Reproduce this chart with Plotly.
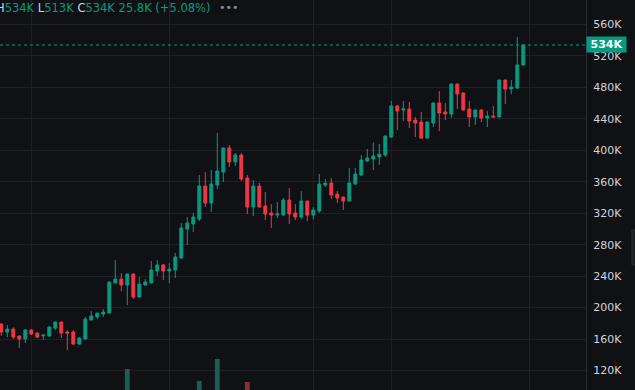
import plotly.graph_objects as go

# ---- data (prices in thousands) ----
opens = [179.0, 168.9, 172.7, 163.8, 160.0, 171.4, 167.6, 164.0, 163.8, 173.9,
         181.6, 168.9, 168.9, 153.6, 160.0, 184.2, 188.0, 191.8, 193.0, 231.3,
         236.3, 228.7, 242.7, 213.4, 228.7, 231.3, 246.5, 254.2, 246.5, 247.8,
         263.0, 299.9, 306.3, 312.6, 354.6, 333.0, 355.9, 372.4, 403.0, 385.2,
         394.0, 364.8, 327.9, 354.6, 329.2, 320.3, 317.7, 317.7, 336.8, 320.3,
         315.2, 335.5, 317.7, 322.8, 355.9, 358.4, 344.4, 340.6, 335.5, 357.2,
         368.6, 386.4, 389.0, 391.5, 394.0, 416.9, 456.4, 451.3, 452.6, 438.6,
         436.0, 415.6, 434.7, 460.2, 448.8, 446.2, 484.3, 472.9, 452.6, 442.4,
         451.3, 441.1, 443.7, 442.4, 489.4, 478.0, 479.3, 508.5]
highs = [180.3, 177.8, 175.2, 164.5, 172.7, 172.7, 168.9, 165.6, 176.5, 182.0,
         182.0, 171.4, 171.4, 162.5, 188.0, 195.6, 193.5, 198.1, 233.0, 260.5,
         243.9, 243.5, 243.5, 238.9, 236.3, 259.2, 260.5, 255.4, 256.7, 269.4,
         307.6, 315.2, 320.3, 368.6, 372.4, 375.0, 422.0, 403.5, 406.8, 396.6,
         396.6, 368.6, 362.2, 358.4, 347.0, 331.7, 334.3, 339.4, 352.1, 331.7,
         348.3, 336.0, 328.0, 369.9, 363.5, 364.8, 348.3, 341.0, 377.5, 377.5,
         394.0, 401.7, 410.0, 408.0, 419.0, 462.7, 457.7, 462.7, 461.4, 442.4,
         448.8, 436.5, 461.0, 475.4, 460.2, 485.0, 485.0, 473.5, 462.7, 452.0,
         452.6, 450.1, 456.4, 490.0, 490.0, 489.4, 544.1, 534.0]
lows = [163.8, 162.5, 160.0, 148.5, 154.9, 165.1, 161.3, 158.7, 163.0, 171.4,
        161.3, 146.0, 153.0, 153.0, 159.5, 184.0, 185.4, 188.0, 192.5, 231.0,
        221.0, 203.2, 211.0, 213.0, 228.0, 231.0, 240.1, 235.0, 231.3, 237.6,
        262.5, 279.6, 296.1, 310.0, 327.9, 321.6, 350.8, 359.7, 378.8, 380.0,
        361.0, 319.0, 316.5, 327.0, 311.4, 301.2, 313.9, 317.0, 306.3, 311.4,
        312.6, 310.0, 312.6, 320.3, 353.3, 338.0, 333.0, 324.1, 335.0, 356.0,
        367.3, 385.2, 375.0, 381.4, 391.5, 415.6, 425.8, 437.3, 428.4, 416.9,
        415.0, 415.0, 429.7, 424.6, 438.6, 441.1, 452.6, 451.0, 429.7, 432.2,
        436.0, 429.7, 441.1, 442.0, 458.9, 471.6, 478.0, 508.0]
closes = [168.9, 172.7, 162.5, 160.0, 171.4, 166.4, 162.5, 165.1, 175.2, 181.6,
          167.6, 167.6, 153.6, 161.3, 185.4, 189.3, 193.0, 194.3, 232.5, 236.3,
          228.7, 242.7, 213.4, 229.9, 232.5, 247.8, 254.2, 246.5, 249.0, 264.3,
          301.2, 307.6, 315.2, 354.6, 333.0, 357.2, 373.7, 403.0, 385.2, 394.0,
          363.5, 327.9, 354.6, 327.9, 319.0, 317.7, 319.0, 336.8, 319.0, 315.2,
          335.5, 317.7, 324.1, 357.2, 358.4, 343.2, 339.4, 335.5, 358.4, 369.9,
          387.7, 390.2, 392.8, 395.3, 418.2, 456.4, 450.1, 452.6, 437.3, 434.7,
          415.6, 436.0, 460.2, 447.5, 446.2, 484.3, 471.6, 451.3, 442.4, 451.3,
          441.1, 443.7, 442.4, 489.4, 478.0, 480.5, 508.5, 534.0]
volumes = [1.4, 1.2, 1.6, 1.9, 1.5, 1.1, 1.0, 1.2, 1.4, 1.3,
           2.0, 2.3, 2.1, 1.3, 2.6, 1.7, 1.2, 1.4, 3.4, 3.6,
           2.4, 6.1, 3.1, 2.2, 1.3, 2.5, 1.9, 1.8, 1.6, 2.4,
           3.7, 2.9, 2.2, 4.9, 3.5, 3.3, 7.1, 3.6, 2.8, 1.9,
           3.2, 4.8, 3.4, 2.9, 2.6, 2.2, 1.5, 1.8, 2.7, 1.6,
           2.3, 2.0, 1.4, 3.0, 1.3, 1.9, 1.2, 1.5, 2.8, 2.1,
           2.4, 1.5, 2.0, 1.7, 2.3, 3.6, 2.5, 1.8, 2.2, 1.6,
           2.1, 1.9, 2.4, 2.9, 1.5, 3.1, 2.3, 2.0, 2.2, 1.6,
           1.5, 1.7, 1.4, 3.2, 2.4, 1.6, 3.8, 2.5]
price_ticks = [120, 160, 200, 240, 280, 320, 360, 400, 440, 480, 520, 560]
price_tick_labels = ["120K", "160K", "200K", "240K", "280K", "320K",
                     "360K", "400K", "440K", "480K", "520K", "560K"]
time_grid = [5, 28, 52, 65, 88]
last_price = 534.0
last_label = "534K"

# ---- style ----
BG = "#101114"
GRID = "#1e2026"
UP = "#089981"
DOWN = "#f23645"
UP_VOL = "#1b5e53"
DOWN_VOL = "#8a2f38"
TXT = "#d1d4dc"
FONT = "DejaVu Sans"

idx = list(range(len(opens)))
vol_colors = [UP_VOL if c >= o else DOWN_VOL for o, c in zip(opens, closes)]

fig = go.Figure()
fig.add_trace(go.Bar(x=idx, y=volumes, marker=dict(color=vol_colors, line=dict(width=0)),
                     width=0.8, yaxis="y2", hoverinfo="skip"))
fig.add_trace(go.Candlestick(
    x=idx, open=opens, high=highs, low=lows, close=closes,
    increasing=dict(line=dict(color=UP, width=1), fillcolor=UP),
    decreasing=dict(line=dict(color=DOWN, width=1), fillcolor=DOWN),
    whiskerwidth=0, yaxis="y", hoverinfo="skip"))

fig.add_shape(type="line", xref="paper", x0=0, x1=1, yref="y", y0=last_price, y1=last_price,
              line=dict(color=UP, width=1, dash="dot"))
# partial scroll control at right edge
fig.add_shape(type="rect", xref="paper", x0=632/586, x1=660/586, yref="paper",
              y0=1-265/390, y1=1-230/390, fillcolor="#1a1c22", line=dict(color="#2c2f37", width=1))

fig.add_annotation(xref="paper", x=1, yref="y", y=last_price, text="<b>" + last_label + "</b>",
                   showarrow=False, xanchor="left", yanchor="middle", bgcolor=UP,
                   font=dict(family=FONT, size=11, color="#ffffff"),
                   width=39, height=15, borderpad=0, align="center")

hdr = ("<span style='color:%s'>H</span>534K <span style='color:%s'>L</span>513K "
       "<span style='color:%s'>C</span>534K 25.8K (+5.08%%)") % (TXT, TXT, TXT)
fig.add_annotation(xref="paper", x=0, yref="paper", y=1, text=hdr, showarrow=False,
                   xanchor="left", yanchor="top", xshift=-5, yshift=0, borderpad=0,
                   font=dict(family=FONT, size=11.5, color=UP))
fig.add_annotation(xref="paper", x=0, yref="paper", y=1, text="•••", showarrow=False,
                   xanchor="left", yanchor="top", xshift=218, yshift=0, borderpad=0,
                   font=dict(family=FONT, size=11, color="#8b8e97"))

fig.update_layout(
    width=635, height=390, margin=dict(l=0, r=49, t=0, b=0),
    paper_bgcolor=BG, plot_bgcolor=BG, showlegend=False, hovermode=False,
    boxgap=0.3,
    xaxis=dict(range=[-0.217, 97.45], rangeslider=dict(visible=False),
               tickvals=time_grid, showticklabels=False, ticks="",
               showgrid=True, gridcolor=GRID, gridwidth=1, zeroline=False, showline=False),
    yaxis=dict(side="right", range=[95.2, 591.2], tickvals=price_ticks, ticktext=price_tick_labels,
               showgrid=True, gridcolor=GRID, gridwidth=1, zeroline=False,
               showline=True, linecolor="#2a2d35", linewidth=1, ticks="",
               ticklabelstandoff=4, tickfont=dict(family=FONT, size=11, color=TXT)),
    yaxis2=dict(overlaying="y", range=[4, 43], visible=False, showgrid=False),
)

fig.write_html("out.html", config={"displayModeBar": False},
               post_script="document.body.style.margin='0';document.body.style.background='%s';"
                           "document.body.style.overflow='hidden';" % BG)
